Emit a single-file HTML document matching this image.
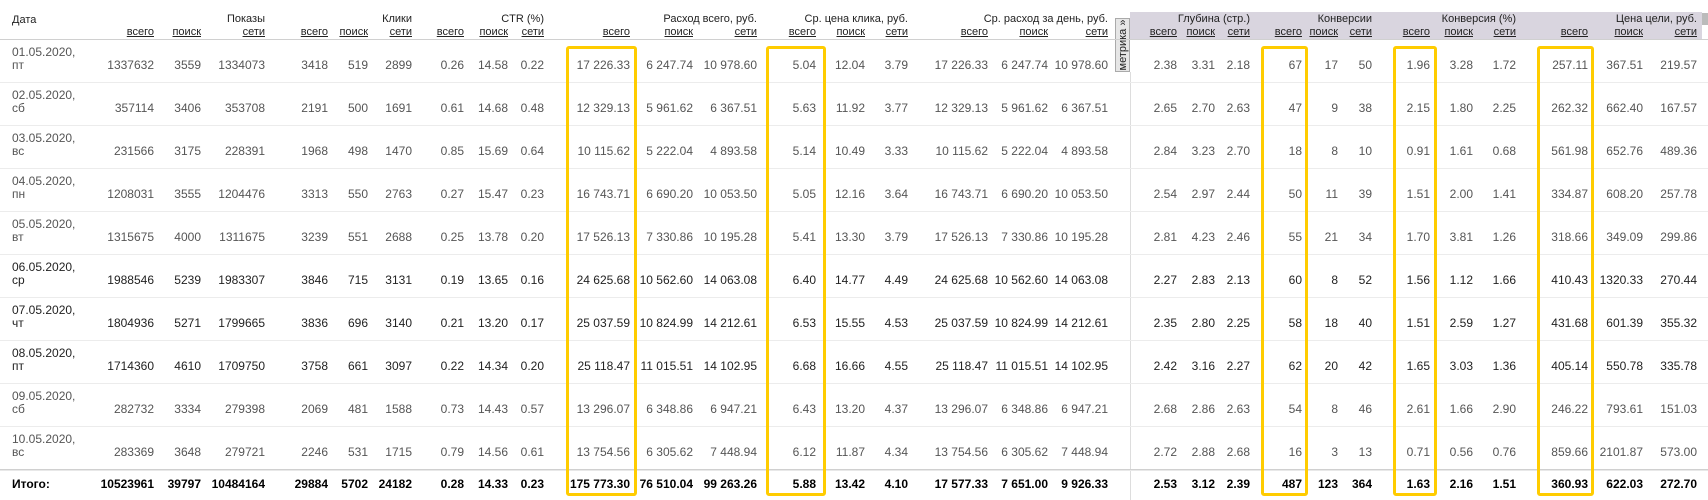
<!DOCTYPE html>
<html><head><meta charset="utf-8">
<style>
body{margin:0;background:#fff;}
#t{position:relative;width:1708px;height:500px;overflow:hidden;font-family:"Liberation Sans","DejaVu Sans",sans-serif;}
.c{position:absolute;white-space:nowrap;font-size:12px;line-height:14px;}
.n{color:#555;transform:translateX(-100%);}
.dk{color:#222;}
.tot{color:#000;font-weight:bold;}
.h{color:#222;font-size:11px;transform:translateX(-100%);}
.u{text-decoration:underline;}
.ln{position:absolute;left:0;width:1708px;height:1px;background:#ececec;}
.box{position:absolute;border:3px solid #ffcc00;border-radius:3px;box-sizing:border-box;}
</style></head><body>
<div id="t">
  <div style="position:absolute;left:1130px;top:12px;width:572px;height:27px;background:#d9d5df;"></div>
  <div style="position:absolute;left:1702px;top:13px;width:6px;height:12px;background:#bbb;"></div>
  <div style="position:absolute;left:1115px;top:18px;width:15px;height:54px;background:#e6e6e6;border:1px solid #aaa;box-sizing:border-box;"><div style="position:absolute;left:-20px;top:20px;width:54px;transform:rotate(-90deg);font-size:11px;color:#222;text-align:center;font-family:'Liberation Sans',sans-serif;">метрика »</div></div>
  <div style="position:absolute;left:1130px;top:72px;width:1px;height:428px;background:#ddd;"></div>
  <div class="c dk" style="left:12px;top:13px;font-size:11px;">Дата</div>
</div>
<script>
const groups=["Показы","Клики","CTR (%)","Расход всего, руб.","Ср. цена клика, руб.","Ср. расход за день, руб.","Глубина (стр.)","Конверсии","Конверсия (%)","Цена цели, руб."];
const subs=["всего","поиск","сети"];
const dates=["01.05.2020,","02.05.2020,","03.05.2020,","04.05.2020,","05.05.2020,","06.05.2020,","07.05.2020,","08.05.2020,","09.05.2020,","10.05.2020,"];
const days=["пт","сб","вс","пн","вт","ср","чт","пт","сб","вс"];
const rows=[
["1337632","3559","1334073","3418","519","2899","0.26","14.58","0.22","17 226.33","6 247.74","10 978.60","5.04","12.04","3.79","17 226.33","6 247.74","10 978.60","2.38","3.31","2.18","67","17","50","1.96","3.28","1.72","257.11","367.51","219.57"],
["357114","3406","353708","2191","500","1691","0.61","14.68","0.48","12 329.13","5 961.62","6 367.51","5.63","11.92","3.77","12 329.13","5 961.62","6 367.51","2.65","2.70","2.63","47","9","38","2.15","1.80","2.25","262.32","662.40","167.57"],
["231566","3175","228391","1968","498","1470","0.85","15.69","0.64","10 115.62","5 222.04","4 893.58","5.14","10.49","3.33","10 115.62","5 222.04","4 893.58","2.84","3.23","2.70","18","8","10","0.91","1.61","0.68","561.98","652.76","489.36"],
["1208031","3555","1204476","3313","550","2763","0.27","15.47","0.23","16 743.71","6 690.20","10 053.50","5.05","12.16","3.64","16 743.71","6 690.20","10 053.50","2.54","2.97","2.44","50","11","39","1.51","2.00","1.41","334.87","608.20","257.78"],
["1315675","4000","1311675","3239","551","2688","0.25","13.78","0.20","17 526.13","7 330.86","10 195.28","5.41","13.30","3.79","17 526.13","7 330.86","10 195.28","2.81","4.23","2.46","55","21","34","1.70","3.81","1.26","318.66","349.09","299.86"],
["1988546","5239","1983307","3846","715","3131","0.19","13.65","0.16","24 625.68","10 562.60","14 063.08","6.40","14.77","4.49","24 625.68","10 562.60","14 063.08","2.27","2.83","2.13","60","8","52","1.56","1.12","1.66","410.43","1320.33","270.44"],
["1804936","5271","1799665","3836","696","3140","0.21","13.20","0.17","25 037.59","10 824.99","14 212.61","6.53","15.55","4.53","25 037.59","10 824.99","14 212.61","2.35","2.80","2.25","58","18","40","1.51","2.59","1.27","431.68","601.39","355.32"],
["1714360","4610","1709750","3758","661","3097","0.22","14.34","0.20","25 118.47","11 015.51","14 102.95","6.68","16.66","4.55","25 118.47","11 015.51","14 102.95","2.42","3.16","2.27","62","20","42","1.65","3.03","1.36","405.14","550.78","335.78"],
["282732","3334","279398","2069","481","1588","0.73","14.43","0.57","13 296.07","6 348.86","6 947.21","6.43","13.20","4.37","13 296.07","6 348.86","6 947.21","2.68","2.86","2.63","54","8","46","2.61","1.66","2.90","246.22","793.61","151.03"],
["283369","3648","279721","2246","531","1715","0.79","14.56","0.61","13 754.56","6 305.62","7 448.94","6.12","11.87","4.34","13 754.56","6 305.62","7 448.94","2.72","2.88","2.68","16","3","13","0.71","0.56","0.76","859.66","2101.87","573.00"]];
const totals=["10523961","39797","10484164","29884","5702","24182","0.28","14.33","0.23","175 773.30","76 510.04","99 263.26","5.88","13.42","4.10","17 577.33","7 651.00","9 926.33","2.53","3.12","2.39","487","123","364","1.63","2.16","1.51","360.93","622.03","272.70"];
const colX=[154,201,265,328,368,412,464,508,544,630,693,757,816,865,908,988,1048,1108,1177,1215,1250,1302,1338,1372,1430,1473,1516,1588,1643,1697];
const T=document.getElementById('t');
function mk(cls,txt,x,y,name,inter){const d=document.createElement('div');d.className='c '+cls;d.textContent=txt;d.style.left=x+'px';d.style.top=y+'px';


T.appendChild(d);return d;}
function line(y,name,col){const l=document.createElement('div');l.className='ln';l.style.top=y+'px';if(col)l.style.background=col;


T.appendChild(l);}
groups.forEach((g,i)=>{mk('h',g,colX[i*3+2],12,'group-header','false');
subs.forEach((s,j)=>mk('h u',s,colX[i*3+j],25,'sub-header-'+s,'true'));});
line(39,'header-divider','#d0d0d0');
const top0=39,pitch=43;
rows.forEach((r,i)=>{const y=top0+i*pitch;const dark=(i>=5&&i<=7)?' dk':'';
mk('dk'+dark,dates[i],12,y+6,'date-cell','false').style.color=dark?'#222':'#555';
mk(''+dark,days[i],12,y+19,'weekday-cell','false').style.color=dark?'#222':'#555';
r.forEach((v,k)=>mk('n'+dark,v,colX[k],y+19,'value-cell','false'));
if(i<9)line(y+pitch,'row-divider');});
line(469,'total-divider','#d0d0d0');line(470,'total-divider-2','#e8e8e8');
mk('tot','Итого:',12,477,'total-label','false');
totals.forEach((v,k)=>mk('n tot',v,colX[k],477,'total-cell','false'));
const boxes=[[566,637],[766,826],[1261,1308],[1393,1437],[1537,1594]];
boxes.forEach(b=>{const d=document.createElement('div');d.className='box';d.style.left=b[0]+'px';d.style.top='46px';d.style.width=(b[1]-b[0])+'px';d.style.height='450px';


T.appendChild(d);});
</script>
</body></html>
